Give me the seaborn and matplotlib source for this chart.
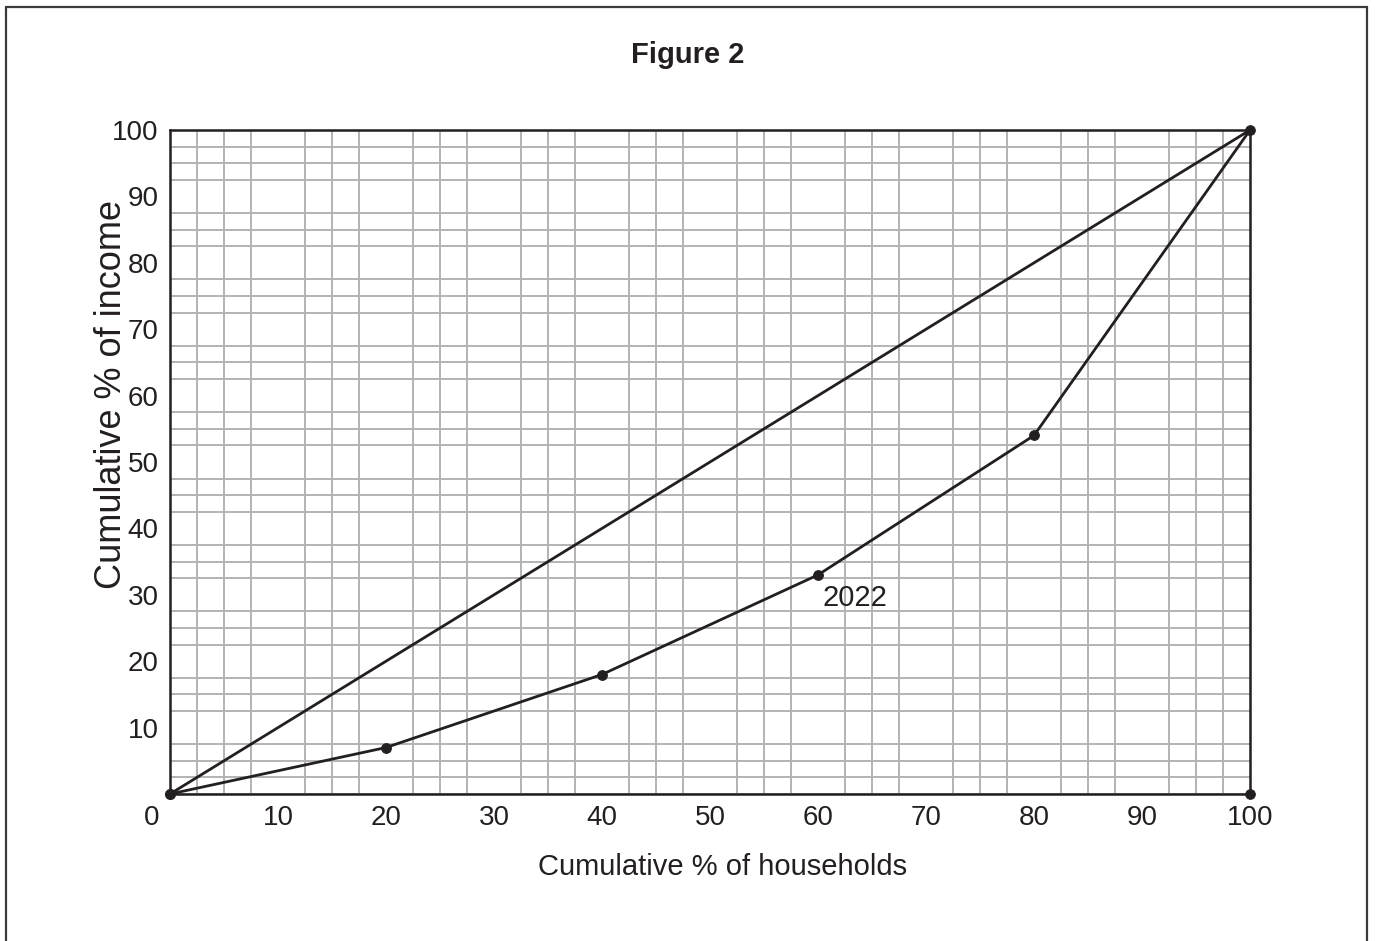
import matplotlib
matplotlib.use("Agg")
import matplotlib.pyplot as plt
import numpy as np
import pandas as pd
import seaborn as sns
from matplotlib.lines import Line2D

# Lorenz curve data
households = [0, 20, 40, 60, 80, 100]
income_2022 = [0, 7, 18, 33, 54, 100]

# Line of perfect equality
equality_x = [0, 100]
equality_y = [0, 100]

x_ticks = [10, 20, 30, 40, 50, 60, 70, 80, 90, 100]
y_ticks = [10, 20, 30, 40, 50, 60, 70, 80, 90, 100]

ink = "#231f20"
grid_col = "#b3b3b3"

sns.set_style("white")
plt.rcParams['font.family'] = ['Liberation Sans', 'DejaVu Sans']

df = pd.DataFrame({'households': households, 'income': income_2022})
df_eq = pd.DataFrame({'x': equality_x, 'y': equality_y})

fig = plt.figure(figsize=(13.75, 9.41), dpi=100)
ax = fig.add_axes([0.1236, 0.1562, 0.9091 - 0.1236, 0.8618 - 0.1562])

# Grid every 2.5 units
ax.set_xticks(np.arange(0, 100.1, 2.5), minor=True)
ax.set_yticks(np.arange(0, 100.1, 2.5), minor=True)
ax.grid(which='minor', color=grid_col, linewidth=1.4)
ax.set_axisbelow(True)

sns.lineplot(data=df_eq, x='x', y='y', ax=ax, color=ink, linewidth=2.0)
sns.lineplot(data=df, x='households', y='income', ax=ax, color=ink,
             linewidth=2.0, marker='o', markersize=7, markeredgecolor=ink)
sns.scatterplot(x=[100, 100], y=[0, 100], ax=ax, color=ink, s=50,
                edgecolor=ink, zorder=5, clip_on=False)
ax.plot([0], [0], 'o', color=ink, markersize=7, clip_on=False, zorder=5)

ax.text(60.4, 31.6, "2022", fontsize=21, color=ink, ha='left', va='top')

ax.set_xlim(0, 100)
ax.set_ylim(0, 100)
ax.set_xticks(x_ticks)
ax.set_yticks(y_ticks)
ax.tick_params(axis='both', which='both', length=0, labelsize=20,
               labelcolor=ink, pad=8)
ax.text(-1.7, -3.6, "0", fontsize=20, color=ink, ha='center', va='center')

for s in ax.spines.values():
    s.set_color(ink)
    s.set_linewidth(1.8)

ax.set_xlabel("Cumulative % of households", fontsize=21, color=ink)
ax.xaxis.set_label_coords(0.512, -0.089)
ax.set_ylabel("Cumulative % of income", fontsize=26, color=ink, va='center')
ax.yaxis.set_label_coords(-0.0545, 0.602)

fig.text(0.5, 0.9416, "Figure 2", fontsize=21, fontweight='bold', color=ink,
         ha='center', va='center')

# Frame around the figure (open at the bottom)
for xs, ys in [([0.0045, 0.0045], [0, 0.9925]), ([0.0045, 0.9945], [0.9925, 0.9925]),
               ([0.9945, 0.9945], [0, 0.9925])]:
    fig.add_artist(Line2D(xs, ys, color="#3a3a3a", linewidth=1.6,
                          transform=fig.transFigure))

fig.savefig("out.png", dpi=100)
